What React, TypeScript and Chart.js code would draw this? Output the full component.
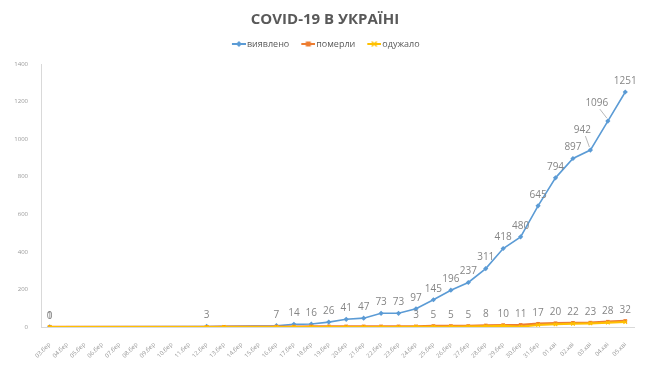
import React, { useEffect, useRef } from "react";
import { Chart, registerables } from "chart.js";

Chart.register(...registerables);

const dates = [
  "03.бер", "04.бер", "05.бер", "06.бер", "07.бер", "08.бер", "09.бер", "10.бер", "11.бер", "12.бер",
  "13.бер", "14.бер", "15.бер", "16.бер", "17.бер", "18.бер", "19.бер", "20.бер", "21.бер", "22.бер",
  "23.бер", "24.бер", "25.бер", "26.бер", "27.бер", "28.бер", "29.бер", "30.бер", "31.бер",
  "01.кві", "02.кві", "03.кві", "04.кві", "05.кві",
];

const confirmed = [
  1, null, null, null, null, null, null, null, null, 3,
  null, null, null, 7, 14, 16, 26, 41, 47, 73,
  73, 97, 145, 196, 237, 311, 418, 480, 645,
  794, 897, 942, 1096, 1251,
];

const deaths = [
  0, null, null, null, null, null, null, null, null, 0,
  1, null, null, 2, 2, 3, 3, 3, 3, 3,
  3, 3, 5, 5, 5, 8, 10, 11, 17,
  20, 22, 23, 28, 32,
];

const recovered = [
  0, null, null, null, null, null, null, null, null, 0,
  0, null, null, 0, 0, 0, 0, 0, 0, 0,
  0, 1, 1, 1, 2, 4, 6, 1, 11,
  14, 17, 19, 23, 26,
];

const yTicks = [0, 200, 400, 600, 800, 1000, 1200, 1400];
const seriesNames = ["виявлено", "померли", "одужало"];
const seriesColors = ["#5B9BD5", "#ED7D31", "#FFC000"];
const deathsLabelIdx = [0, 21, 22, 23, 24, 25, 26, 27, 28, 29, 30, 31, 32, 33];

function makeLegendIcon(color: string, kind: string) {
  // canvas is centred on the legend box; line drawn in its right part
  const c = document.createElement("canvas");
  c.width = 19;
  c.height = 8;
  const g = c.getContext("2d")!;
  g.strokeStyle = color;
  g.fillStyle = color;
  g.lineWidth = 2;
  g.beginPath();
  g.moveTo(5, 4);
  g.lineTo(19, 4);
  g.stroke();
  const cx = 12;
  if (kind === "diamond") {
    g.beginPath();
    g.moveTo(cx, 1);
    g.lineTo(cx + 3, 4);
    g.lineTo(cx, 7);
    g.lineTo(cx - 3, 4);
    g.closePath();
    g.fill();
  } else if (kind === "square") {
    g.fillRect(cx - 2.5, 1.5, 5, 5);
  } else {
    g.lineWidth = 1.3;
    g.beginPath();
    g.moveTo(cx - 2.5, 1.5);
    g.lineTo(cx + 2.5, 6.5);
    g.moveTo(cx + 2.5, 1.5);
    g.lineTo(cx - 2.5, 6.5);
    g.stroke();
  }
  return c;
}

const valueLabelPlugin = {
  id: "valueLabels",
  afterDatasetsDraw(chart: any) {
    const ctx = chart.ctx;
    ctx.save();
    ctx.font = '10px "Open Sans"';
    ctx.fillStyle = "#858585";
    ctx.textAlign = "center";
    ctx.textBaseline = "middle";
    const shifts: Record<number, [number, number]> = { 31: [-8, -9], 32: [-11, -7] };
    chart.data.datasets.forEach((ds: any, di: number) => {
      if (di === 2) return;
      const meta = chart.getDatasetMeta(di);
      meta.data.forEach((pt: any, i: number) => {
        const v = ds.data[i];
        if (v == null) return;
        if (di === 1 && !deathsLabelIdx.includes(i)) return;
        const sh = di === 0 && shifts[i] ? shifts[i] : [0, 0];
        const x = pt.x + sh[0];
        const y = pt.y - 11 + sh[1];
        if (sh[0] || sh[1]) {
          ctx.save();
          ctx.strokeStyle = "#a6a6a6";
          ctx.lineWidth = 0.8;
          ctx.beginPath();
          ctx.moveTo(x + 3, y + 6);
          ctx.lineTo(pt.x - 1, pt.y - 3);
          ctx.stroke();
          ctx.restore();
        }
        ctx.fillText(String(v), x, y);
      });
    });
    ctx.restore();
  },
};

export default function App() {
  const ref = useRef<HTMLCanvasElement | null>(null);

  useEffect(() => {
    if (!ref.current) return;
    const icons = [
      makeLegendIcon(seriesColors[0], "diamond"),
      makeLegendIcon(seriesColors[1], "square"),
      makeLegendIcon(seriesColors[2], "cross"),
    ];
    const chart = new Chart(ref.current, {
      type: "line",
      data: {
        labels: dates,
        datasets: [
          {
            label: seriesNames[0],
            data: confirmed,
            borderColor: seriesColors[0],
            backgroundColor: seriesColors[0],
            borderWidth: 1.6,
            pointStyle: "rectRot",
            pointRadius: 2.6,
            pointBorderWidth: 0,
            spanGaps: true,
            tension: 0,
            order: 2,
          },
          {
            label: seriesNames[1],
            data: deaths,
            borderColor: seriesColors[1],
            backgroundColor: seriesColors[1],
            borderWidth: 2.4,
            pointStyle: "rect",
            pointRadius: 2.6,
            pointBorderWidth: 0,
            spanGaps: true,
            tension: 0,
            order: 1,
          },
          {
            label: seriesNames[2],
            data: recovered,
            borderColor: seriesColors[2],
            backgroundColor: seriesColors[2],
            borderWidth: 2,
            pointStyle: "crossRot",
            pointRadius: 2.5,
            pointBorderWidth: 1.2,
            spanGaps: true,
            tension: 0,
            order: 0,
          },
        ],
      },
      options: {
        responsive: true,
        maintainAspectRatio: false,
        animation: false,
        layout: { padding: 0 },
        plugins: {
          title: {
            display: true,
            text: "COVID-19 В УКРАЇНІ",
            color: "#595959",
            font: { family: "Open Sans", size: 15, weight: "bold" },
            padding: { top: 11, bottom: 0 },
          },
          subtitle: {
            display: true,
            text: "",
            weight: 500,
            font: { size: 4.6 },
            padding: 0,
          } as any,
          legend: {
            display: true,
            position: "top",
            labels: {
              color: "#595959",
              font: { family: "Open Sans", size: 9 },
              usePointStyle: true,
              pointStyleWidth: 12,
              padding: 10.5,
              generateLabels: (ch: any) => {
                const items = Chart.defaults.plugins.legend.labels.generateLabels(ch);
                items.sort((a: any, b: any) => a.datasetIndex - b.datasetIndex);
                items.forEach((it: any) => {
                  it.pointStyle = icons[it.datasetIndex];
                  it.fontColor = "#595959";
                });
                return items;
              },
            },
          },
          tooltip: { enabled: false },
        },
        scales: {
          x: {
            type: "category",
            offset: true,
            grid: { display: false },
            border: { display: true, color: "#d9d9d9" },
            ticks: {
              autoSkip: false,
              minRotation: 45,
              maxRotation: 45,
              color: "#999999",
              font: { family: "Open Sans", size: 6 },
              padding: 6,
            },
            afterFit: (s: any) => {
              s.height = 39;
            },
          },
          y: {
            min: 0,
            max: 1400,
            grid: { display: false },
            border: { display: true, color: "#d9d9d9" },
            afterBuildTicks: (s: any) => {
              s.ticks = yTicks.map((v) => ({ value: v }));
            },
            ticks: {
              color: "#999999",
              font: { family: "Open Sans", size: 6 },
              padding: 5,
              callback: (v: any) => String(v),
            },
            afterFit: (s: any) => {
              s.width = 41;
            },
          },
          yRight: {
            type: "linear",
            position: "right",
            display: true,
            grid: { display: false },
            border: { display: false },
            ticks: { display: false },
            afterFit: (s: any) => {
              s.width = 16;
            },
          },
        },
      },
      plugins: [valueLabelPlugin],
    });
    return () => chart.destroy();
  }, []);

  return (
    <div style={{ position: "fixed", left: 0, top: 0, width: 650, height: 366, background: "#fff" }}>
      <canvas ref={ref} />
    </div>
  );
}
